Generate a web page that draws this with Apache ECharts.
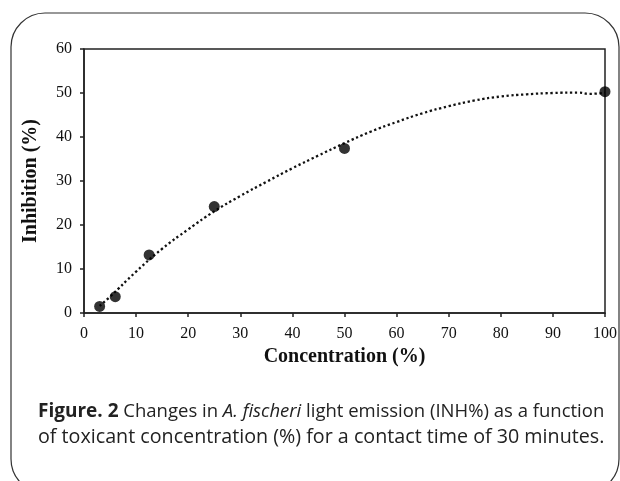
<!DOCTYPE html>
<html lang="en">
<head>
    <meta charset="UTF-8">
    <title>Inhibition vs concentration</title>
    <script type="text/javascript" src="https://cdn.jsdelivr.net/npm/echarts@6/dist/echarts.min.js"></script>
    <style>
        html, body { margin: 0; padding: 0; background: #fff; }
        #chart { width: 620px; height: 481px; }
    </style>
</head>
<body>
<div id="chart"></div>
<script type="text/javascript">
  // measured points
  var conc = [3, 6, 12.5, 25, 50, 100];
  var inhib = [1.5, 3.7, 13.2, 24.2, 37.4, 50.3];
  // trend line
  var trendX = [3, 5, 10, 15, 20, 25, 30, 35, 40, 45, 50, 55, 60, 65, 70, 75, 80, 85, 90, 95, 97, 100];
  var trendY = [1.6, 3.7, 9.4, 14.6, 19.0, 23.1, 26.6, 29.8, 32.9, 35.8, 38.6, 41.2, 43.4, 45.4, 47.0, 48.3, 49.2, 49.7, 50.0, 50.1, 49.8, 50.1];
  var xTicks = [0, 10, 20, 30, 40, 50, 60, 70, 80, 90, 100];
  var yTicks = [0, 10, 20, 30, 40, 50, 60];

  var points = [];
  for (var i = 0; i < conc.length; i++) {
    points.push([conc[i], inhib[i]]);
  }
  var trend = [];
  for (var j = 0; j < trendX.length; j++) {
    trend.push([trendX[j], trendY[j]]);
  }

  var chart = echarts.init(document.getElementById('chart'));
  var serif = '"Liberation Serif", "DejaVu Serif", serif';
  var sans = '"Open Sans", "Noto Sans", sans-serif';
  var option = {
    backgroundColor: '#fff',
    animation: false,
    grid: {
      left: 84, right: 13, top: 49, bottom: 168,
      show: true, borderColor: '#222', borderWidth: 1.5
    },
    xAxis: {
      type: 'value',
      min: xTicks[0], max: xTicks[xTicks.length - 1], interval: 10,
      name: 'Concentration (%)',
      nameLocation: 'middle', nameGap: 21,
      nameTextStyle: { fontFamily: serif, fontWeight: 'bold', fontSize: 20, color: '#111' },
      axisLine: { lineStyle: { color: '#222', width: 1.5 } },
      axisTick: { show: true, length: 4, lineStyle: { color: '#222', width: 1.5 } },
      axisLabel: { fontFamily: serif, fontSize: 16, color: '#111', margin: 13 },
      splitLine: { show: false }
    },
    yAxis: {
      type: 'value',
      min: yTicks[0], max: yTicks[yTicks.length - 1], interval: 10,
      name: 'Inhibition (%)',
      nameLocation: 'middle', nameGap: 43, nameRotate: 90,
      nameTextStyle: { fontFamily: serif, fontWeight: 'bold', fontSize: 20, color: '#111' },
      axisLine: { show: true, lineStyle: { color: '#222', width: 1.5 } },
      axisTick: { show: true, length: 4, lineStyle: { color: '#222', width: 1.5 } },
      axisLabel: { fontFamily: serif, fontSize: 16, color: '#111', margin: 12 },
      splitLine: { show: false }
    },
    graphic: [
      {
        type: 'rect',
        shape: { x: 11, y: 13, width: 608, height: 480, r: 34 },
        style: { fill: 'none', stroke: '#333', lineWidth: 1.2 },
        silent: true
      },
      {
        type: 'text',
        x: 38, y: 412,
        style: {
          text: '{b|Figure. 2} Changes in {i|A. fischeri} light emission (INH%) as a function',
          font: '18.5px ' + sans,
          fill: '#222',
          verticalAlign: 'middle',
          rich: {
            b: { fontWeight: 'bold', fontSize: 19, fontFamily: sans, fill: '#222' },
            i: { fontStyle: 'italic', fontSize: 18.5, fontFamily: sans, fill: '#222' }
          }
        }
      },
      {
        type: 'text',
        x: 38, y: 437,
        style: {
          text: 'of toxicant concentration (%) for a contact time of 30 minutes.',
          font: '19.7px ' + sans,
          fill: '#222',
          verticalAlign: 'middle'
        }
      }
    ],
    series: [
      {
        type: 'line',
        data: trend,
        showSymbol: false,
        smooth: true,
        lineStyle: { color: '#111', width: 2.3, type: [2.3, 2.6], cap: 'butt' },
        z: 2
      },
      {
        type: 'scatter',
        data: points,
        symbol: 'circle',
        symbolSize: 11,
        itemStyle: { color: '#000' },
        z: 3
      }
    ]
  };
  chart.setOption(option);
</script>
</body>
</html>
